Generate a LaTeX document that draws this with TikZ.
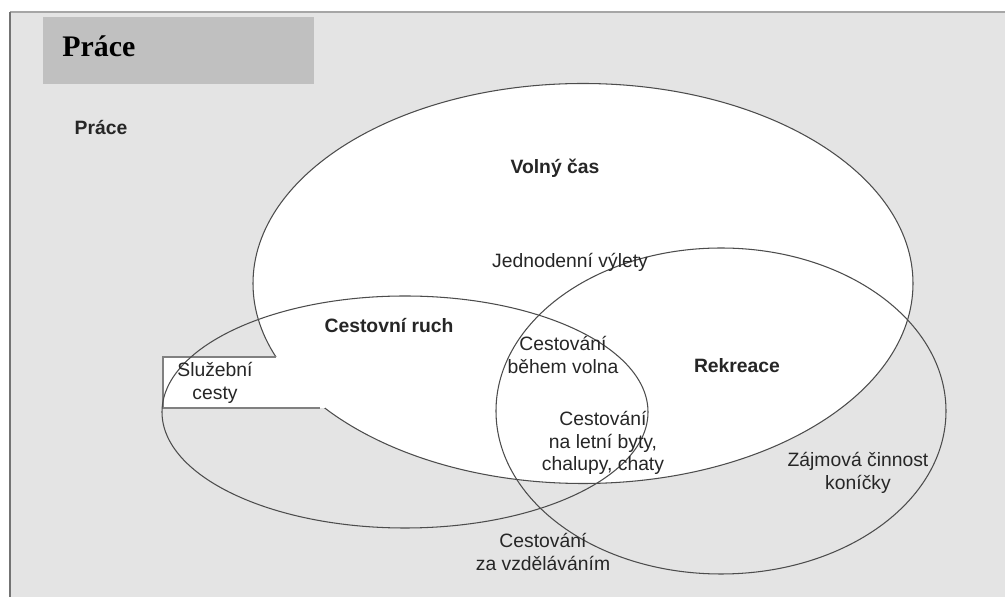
\documentclass[tikz,border=0pt]{standalone}
\usepackage{fontspec}
\setmainfont{Liberation Sans}
\newfontfamily\timesbold{Liberation Serif}
\definecolor{bggray}{HTML}{E4E4E4}
\definecolor{boxgray}{HTML}{C0C0C0}
\definecolor{ink}{HTML}{262626}
\begin{document}
\begin{tikzpicture}[x=0.02cm,y=-0.02cm,
  lbl/.style={text=ink,font=\fontsize{11}{13}\selectfont,align=center,inner sep=0pt},
  bold/.style={lbl,font=\fontsize{11}{13}\selectfont\bfseries},
  rim/.style={draw=black!70,line width=0.6pt}]
\useasboundingbox (0,0) rectangle (1005,597);
\fill[bggray] (10,12) rectangle (1005,597);
\draw[black!35,line width=1.2pt] (10,12)--(1005,12);
\draw[black!55,line width=0.7pt] (10,12)--(10,597);
\fill[boxgray] (43,17) rectangle (314,84);
\node (prace) at (62,46)[anchor=west,inner sep=0pt,font=\timesbold\fontsize{17}{20}\selectfont\bfseries]{Práce};
\node (pracesmall) at (101,128)[bold]{Práce};
% volny cas, with the box on the left
\fill[white] (583,283.5) ellipse [x radius=330,y radius=200];
\draw[rim] (583,283.5) ellipse [x radius=330,y radius=200];
\fill[white] (163,357) rectangle (325,408);
\draw[black!50,line width=1.1pt] (276,357)--(163,357)--(163,408)--(320,408);
% cestovni ruch and rekreace
\draw[rim] (405,412) ellipse [x radius=243,y radius=116];
\draw[rim] (721,411) ellipse [x radius=225,y radius=163];
\node (volny) at (555,168)[bold]{Volný čas};
\node (jednodenni) at (570,262)[lbl]{Jednodenní výlety};
\node (ruch) at (389,326)[bold]{Cestovní ruch};
\node (behem) at (563,355)[lbl]{Cestování\\během volna};
\node (rekreace) at (737,366)[bold]{Rekreace};
\node (sluzebni) at (215,383)[lbl]{Služební\\cesty};
\node (letni) at (603,443)[lbl]{Cestování\\na letní byty,\\chalupy, chaty};
\node (zajmova) at (858,473)[lbl]{Zájmová činnost\\koníčky};
\node (vzdelavani) at (543,552)[lbl]{Cestování\\za vzděláváním};
\end{tikzpicture}
\end{document}
